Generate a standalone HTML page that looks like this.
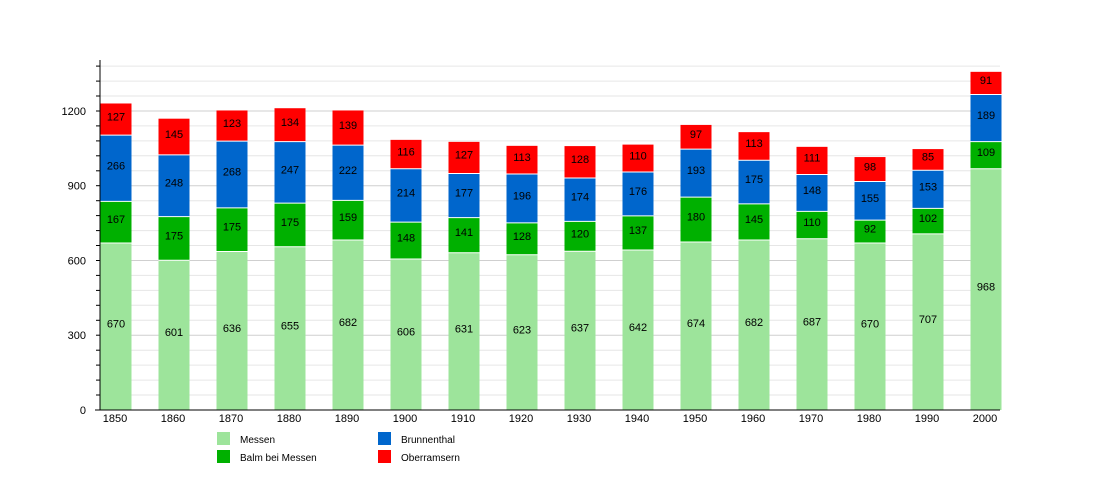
<!DOCTYPE html><html><head><meta charset="utf-8"><style>body{margin:0;background:#fff}svg{display:block;font-family:"Liberation Sans",sans-serif}</style></head><body>
<svg width="1100" height="500" xmlns="http://www.w3.org/2000/svg" id="s"></svg>
<script>
const d=[[1850,670,167,266,127],[1860,601,175,248,145],[1870,636,175,268,123],[1880,655,175,247,134],[1890,682,159,222,139],[1900,606,148,214,116],[1910,631,141,177,127],[1920,623,128,196,113],[1930,637,120,174,128],[1940,642,137,176,110],[1950,674,180,193,97],[1960,682,145,175,113],[1970,687,110,148,111],[1980,670,92,155,98],[1990,707,102,153,85],[2000,968,109,189,91]];
const c=['#9de49b','#00b000','#0066cc','#ff0000'];
const y0=410,k=0.2492;let h='';
for(let v=0;v<=1380;v+=60){const y=(y0-v*k).toFixed(1);h+=`<line x1="100" x2="1000" y1="${y}" y2="${y}" stroke="${v%300?'#e6e6e6':'#cfcfcf'}"/><line x1="96" x2="100" y1="${y}" y2="${y}" stroke="#000"/>`;if(v%300==0)h+=`<text x="86" y="${+y+4}" font-size="11" text-anchor="end">${v}</text>`;}
d.forEach((r,i)=>{const cx=116+i*58;let b=0;for(let j=0;j<4;j++){const ya=y0-b*k,yb=y0-(b+r[j+1])*k;h+=`<rect x="${cx-15.5}" y="${yb}" width="31" height="${ya-yb}" fill="${c[j]}"/>`;if(j>0)h+=`<line x1="${cx-15.5}" x2="${cx+15.5}" y1="${ya}" y2="${ya}" stroke="#fff"/>`;h+=`<text x="${cx}" y="${(ya+yb)/2+1}" font-size="11" text-anchor="middle">${r[j+1]}</text>`;b+=r[j+1];}
h+=`<text x="${cx-1}" y="422" font-size="11" text-anchor="middle">${r[0]}</text>`;});
h+=`<line x1="100" x2="100" y1="60" y2="410" stroke="#000"/><line x1="95" x2="1000" y1="410" y2="410" stroke="#000"/>`;
[['Messen',217,432,0],['Balm bei Messen',217,450,1],['Brunnenthal',378,432,2],['Oberramsern',378,450,3]].forEach(l=>{h+=`<rect x="${l[1]}" y="${l[2]}" width="13" height="13" fill="${c[l[3]]}"/><text x="${l[1]+23}" y="${l[2]+11}" font-size="10">${l[0]}</text>`;});
document.getElementById('s').innerHTML=h;
</script></body></html>
